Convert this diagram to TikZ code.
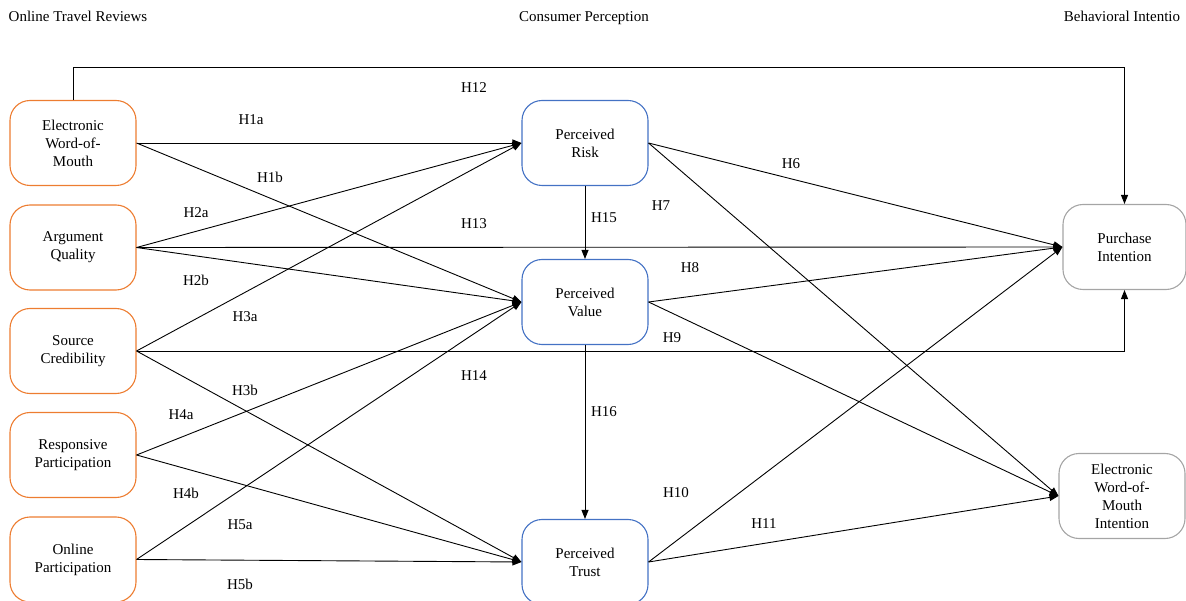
\documentclass[tikz,border=0pt]{standalone}
\usepackage{fontspec}
\setmainfont{Liberation Serif}
\usetikzlibrary{arrows.meta}
\definecolor{cOrange}{RGB}{237,125,49}
\definecolor{cBlue}{RGB}{68,114,196}
\definecolor{cGray}{RGB}{165,165,165}
\begin{document}
\begin{tikzpicture}[x=1pt,y=-1pt,
  every node/.style={font=\rmfamily\fontsize{15}{18}\selectfont},
  boxbase/.style={draw, line width=1.1pt, rounded corners=20pt, align=center,
    minimum width=126pt, minimum height=85pt, inner sep=0pt},
  srcbox/.style={boxbase, draw=cOrange},
  midbox/.style={boxbase, draw=cBlue},
  outbox/.style={boxbase, draw=cGray},
  conn/.style={line width=0.9pt, -{Triangle[length=9pt,width=7pt]}},
  hyp/.style={inner sep=0pt},
  hdr/.style={inner sep=0pt, anchor=base}
]
\useasboundingbox (0,0) rectangle (1186,601);

% headers
\node[hdr] (h1) at (78,22) {Online Travel Reviews};
\node[hdr] (h2) at (584,22) {Consumer Perception};
\node[hdr] (h3) at (1122,22) {Behavioral Intentio};

% source boxes
\node[srcbox] (EW) at (73,143) {Electronic\\Word-of-\\Mouth};
\node[srcbox] (AQ) at (73,247.5) {Argument\\Quality};
\node[srcbox] (SC) at (73,351) {Source\\Credibility};
\node[srcbox] (RP) at (73,455) {Responsive\\Participation};
\node[srcbox] (OP) at (73,559.5) {Online\\Participation};

% perception boxes
\node[midbox] (PR) at (585,143) {Perceived\\Risk};
\node[midbox] (PV) at (585,302) {Perceived\\Value};
\node[midbox] (PT) at (585,562) {Perceived\\Trust};

% outcome boxes
\node[outbox, minimum width=123pt] (PI) at (1124.5,247) {Purchase\\Intention};
\node[outbox] (EI) at (1122,496) {Electronic\\Word-of-\\Mouth\\Intention};

% connectors
\draw[conn] (EW.east) -- (PR.west);
\draw[conn] (EW.east) -- (PV.west);
\draw[conn] (AQ.east) -- (PR.west);
\draw[conn] (AQ.east) -- (PV.west);
\draw[conn] (SC.east) -- (PR.west);
\draw[conn] (SC.east) -- (PT.west);
\draw[conn] (RP.east) -- (PV.west);
\draw[conn] (RP.east) -- (PT.west);
\draw[conn] (OP.east) -- (PV.west);
\draw[conn] (OP.east) -- (PT.west);

\draw[conn] (PR.east) -- (PI.west);
\draw[conn] (PR.east) -- (EI.west);
\draw[conn] (PV.east) -- (PI.west);
\draw[conn] (PV.east) -- (EI.west);
\draw[conn] (PT.east) -- (PI.west);
\draw[conn] (PT.east) -- (EI.west);
\draw[conn] (AQ.east) -- (PI.west);

\draw[conn] (PR.south) -- (PV.north);
\draw[conn] (PV.south) -- (PT.north);

\draw[conn] (EW.north) -- ++(0,-32) -| (PI.north);
\draw[conn] (SC.east) -- (PI.south |- SC.east) -- (PI.south);

% hypothesis labels
\node[hyp] (lH12) at (474,88) {H12};
\node[hyp] (lH1a) at (251,120) {H1a};
\node[hyp] (lH1b) at (270,177) {H1b};
\node[hyp] (lH2a) at (196,213) {H2a};
\node[hyp] (lH13) at (474,224) {H13};
\node[hyp] (lH2b) at (196,280) {H2b};
\node[hyp] (lH3a) at (245,317) {H3a};
\node[hyp] (lH3b) at (245,390) {H3b};
\node[hyp] (lH14) at (474,376) {H14};
\node[hyp] (lH4a) at (181,415) {H4a};
\node[hyp] (lH4b) at (186,493) {H4b};
\node[hyp] (lH5a) at (240,525) {H5a};
\node[hyp] (lH5b) at (240,584) {H5b};
\node[hyp] (lH6) at (791,164) {H6};
\node[hyp] (lH7) at (661,206) {H7};
\node[hyp] (lH15) at (604,218) {H15};
\node[hyp] (lH8) at (690,268) {H8};
\node[hyp] (lH9) at (672,338) {H9};
\node[hyp] (lH16) at (604,412) {H16};
\node[hyp] (lH10) at (676,493) {H10};
\node[hyp] (lH11) at (764,524) {H11};
\end{tikzpicture}
\end{document}
